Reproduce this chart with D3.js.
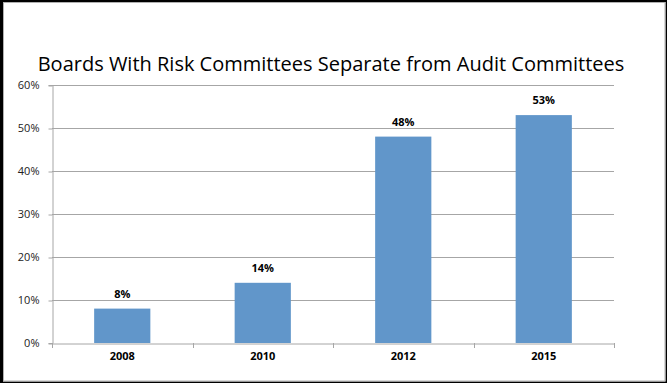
<!DOCTYPE html>
<html>
<head>
<meta charset="utf-8">
<script src="https://cdn.jsdelivr.net/npm/d3@7"></script>
<style>
  html, body { margin: 0; padding: 0; background: #fff; }
  svg { display: block; }
</style>
</head>
<body>
<svg id="chart" width="667" height="383"></svg>
<script>
// Share of boards with a risk committee separate from the audit committee
const years = ["2008", "2010", "2012", "2015"];
const shares = [8, 14, 48, 53];
const yTicks = [0, 10, 20, 30, 40, 50, 60];
const title = "Boards With Risk Committees Separate from Audit Committees";

const W = 667, H = 383;
const margin = { left: 52, right: 53, top: 85, bottom: 40 };
const svg = d3.select("#chart");
const font = "'Open Sans', 'Liberation Sans', sans-serif";

// white card with dark frame (heavier on the left and top)
svg.append("rect").attr("x", 0).attr("y", 0).attr("width", W).attr("height", H).attr("fill", "#fff");
svg.append("rect").attr("x", 0).attr("y", 0).attr("width", 3).attr("height", H).attr("fill", "#000");
svg.append("rect").attr("x", 0).attr("y", 0).attr("width", W).attr("height", 2).attr("fill", "#000");
svg.append("rect").attr("x", W - 1.5).attr("y", 0).attr("width", 1.5).attr("height", H).attr("fill", "#000");
svg.append("rect").attr("x", 0).attr("y", H - 1.5).attr("width", W).attr("height", 1.5).attr("fill", "#000");
svg.append("rect").attr("x", 3.5).attr("y", 2.5).attr("width", W - 5.5).attr("height", H - 4.5)
  .attr("fill", "none").attr("stroke", "#b0b0b0").attr("stroke-width", 1);

const x = d3.scaleBand().domain(years).range([margin.left, W - margin.right]).padding(0);
const y = d3.scaleLinear().domain([0, 60]).range([H - margin.bottom, margin.top]);

// title
svg.append("text")
  .attr("x", 331).attr("y", 71)
  .attr("text-anchor", "middle")
  .attr("font-family", font)
  .attr("font-size", 20)
  .attr("fill", "#000")
  .text(title);

// horizontal gridlines
svg.append("g")
  .selectAll("line")
  .data(yTicks.filter(d => d > 0))
  .join("line")
  .attr("x1", margin.left).attr("x2", W - margin.right)
  .attr("y1", d => Math.round(y(d)) + 0.5).attr("y2", d => Math.round(y(d)) + 0.5)
  .attr("stroke", "#a6a6a6").attr("stroke-width", 1);

// y axis
const yAxis = d3.axisLeft(y).tickValues(yTicks).tickFormat(d => d + "%").tickSize(4).tickPadding(9);
const gy = svg.append("g").attr("transform", `translate(${margin.left + 0.5},0)`).call(yAxis);
gy.select(".domain").attr("stroke", "#a6a6a6");
gy.selectAll(".tick line").attr("stroke", "#a6a6a6")
  .attr("transform", d => `translate(0,${Math.round(y(d)) + 0.5 - y(d)})`);
gy.selectAll(".tick text").attr("font-family", font).attr("font-size", 11).attr("fill", "#222");

// bars
const barW = x.bandwidth() * 0.4;
svg.append("g")
  .selectAll("rect")
  .data(years.map((yr, i) => ({ yr, v: shares[i] })))
  .join("rect")
  .attr("x", d => x(d.yr) + (x.bandwidth() - barW) / 2)
  .attr("y", d => y(d.v))
  .attr("width", barW)
  .attr("height", d => y(0) - y(d.v))
  .attr("fill", "#6196ca");

// value labels
svg.append("g")
  .selectAll("text")
  .data(years.map((yr, i) => ({ yr, v: shares[i] })))
  .join("text")
  .attr("x", d => x(d.yr) + x.bandwidth() / 2)
  .attr("y", d => y(d.v) - 11)
  .attr("text-anchor", "middle")
  .attr("font-family", font)
  .attr("font-size", 11)
  .attr("font-weight", "bold")
  .attr("fill", "#000")
  .text(d => d.v + "%");

// x axis
const xAxis = d3.axisBottom(x).tickSize(0).tickPadding(9);
const gx = svg.append("g").attr("transform", `translate(0,${Math.round(y(0)) + 0.5})`).call(xAxis);
gx.select(".domain").attr("stroke", "#a6a6a6");
gx.selectAll(".tick text").attr("font-family", font).attr("font-size", 11)
  .attr("font-weight", "bold").attr("fill", "#000");
// category separators below the baseline
svg.append("g")
  .selectAll("line")
  .data(years.map(yr => x(yr)).concat([W - margin.right]))
  .join("line")
  .attr("x1", d => Math.round(d) + 0.5).attr("x2", d => Math.round(d) + 0.5)
  .attr("y1", Math.round(y(0))).attr("y2", Math.round(y(0)) + 5)
  .attr("stroke", "#a6a6a6");
</script>
</body>
</html>
